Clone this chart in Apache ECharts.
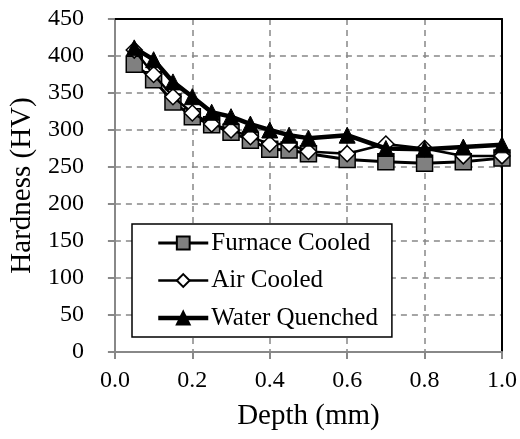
<!DOCTYPE html>
<html>
<head>
<meta charset="utf-8">
<script src="https://cdn.jsdelivr.net/npm/echarts@6/dist/echarts.min.js"></script>
<style>
  html, body { margin: 0; padding: 0; background: #fff; }
  #chart { width: 520px; height: 439px; }
</style>
</head>
<body>
<div id="chart"></div>
<script>
// depth (mm) and hardness (HV)
const depth = [0.05, 0.1, 0.15, 0.2, 0.25, 0.3, 0.35, 0.4, 0.45, 0.5, 0.6, 0.7, 0.8, 0.9, 1.0];
const furnaceCooled = [389, 368, 338, 318, 307, 297, 286, 274, 273, 268, 260, 257, 255, 257, 262];
const airCooled = [408, 375, 345, 323, 308, 300, 291, 281, 281, 271, 268, 281, 275, 265, 265];
const waterQuenched = [411, 395, 365, 345, 324, 318, 308, 300, 293, 289, 293, 275, 274, 277, 280];
const seriesNames = ["Furnace Cooled", "Air Cooled", "Water Quenched"];

const font = "'Liberation Serif', 'DejaVu Serif', serif";
const pairs = ys => depth.map((x, i) => [x, ys[i]]);
const lineWidths = [3, 2.5, 4.5];

const chart = echarts.init(document.getElementById("chart"));

// black frame lines on top and right of the plot
const frame = { show: true, onZero: false, lineStyle: { color: "#000", width: 2 } };

chart.setOption({
  animation: false,
  textStyle: { fontFamily: font },
  grid: { left: 114, right: 14, top: 19, bottom: 87 },
  legend: {
    data: seriesNames.map((name, i) => ({
      name,
      lineStyle: { color: "#000", width: lineWidths[i] }
    })),
    orient: "vertical",
    left: 132,
    top: 224,
    width: 262,
    itemWidth: 50,
    itemHeight: 16,
    itemGap: 12.5,
    padding: [6.5, 14, 6.5, 24],
    borderColor: "#000",
    borderWidth: 1.5,
    backgroundColor: "#fff",
    textStyle: { fontFamily: font, fontSize: 25, color: "#000", padding: [0, 0, 0, -2] }
  },
  xAxis: [
    {
      type: "value",
      min: 0,
      max: 1,
      interval: 0.2,
      name: "Depth (mm)",
      nameLocation: "middle",
      nameGap: 50,
      nameTextStyle: { fontFamily: font, fontSize: 29, color: "#000" },
      axisLine: { onZero: false, lineStyle: { color: "#888", width: 2 } },
      axisTick: { show: true, length: 7, lineStyle: { color: "#888", width: 2 } },
      axisLabel: {
        fontFamily: font, fontSize: 24, color: "#000", margin: 17,
        formatter: v => v.toFixed(1)
      },
      splitLine: { show: true, lineStyle: { color: "#888", width: 1.5, type: [6, 5] } }
    },
    {
      type: "value",
      position: "top",
      min: 0,
      max: 1,
      interval: 0.2,
      axisLine: frame,
      axisTick: { show: false },
      axisLabel: { show: false },
      splitLine: { show: false }
    }
  ],
  yAxis: [
    {
      type: "value",
      min: 0,
      max: 450,
      interval: 50,
      name: "Hardness (HV)",
      nameLocation: "middle",
      nameGap: 76,
      nameTextStyle: { fontFamily: font, fontSize: 29, color: "#000" },
      axisLine: { show: true, onZero: false, lineStyle: { color: "#888", width: 2 } },
      axisTick: { show: true, length: 7, lineStyle: { color: "#888", width: 2 } },
      axisLabel: { fontFamily: font, fontSize: 24, color: "#000", margin: 31 },
      splitLine: { show: true, lineStyle: { color: "#888", width: 1.5, type: [6, 5] } }
    },
    {
      type: "value",
      position: "right",
      min: 0,
      max: 450,
      interval: 50,
      axisLine: frame,
      axisTick: { show: false },
      axisLabel: { show: false },
      splitLine: { show: false }
    }
  ],
  series: [
    {
      name: seriesNames[0],
      type: "line",
      data: pairs(furnaceCooled),
      symbol: "rect",
      symbolSize: 16,
      lineStyle: { color: "#000", width: lineWidths[0] },
      itemStyle: { color: "#808080", borderColor: "#000", borderWidth: 1.5 },
      z: 2
    },
    {
      name: seriesNames[1],
      type: "line",
      data: pairs(airCooled),
      symbol: "diamond",
      symbolSize: 16,
      lineStyle: { color: "#000", width: lineWidths[1] },
      itemStyle: { color: "#fff", borderColor: "#000", borderWidth: 1.5 },
      z: 3
    },
    {
      name: seriesNames[2],
      type: "line",
      data: pairs(waterQuenched),
      symbol: "triangle",
      symbolSize: 16,
      lineStyle: { color: "#000", width: lineWidths[2] },
      itemStyle: { color: "#000", borderColor: "#000", borderWidth: 1 },
      z: 4
    }
  ]
});
</script>
</body>
</html>
